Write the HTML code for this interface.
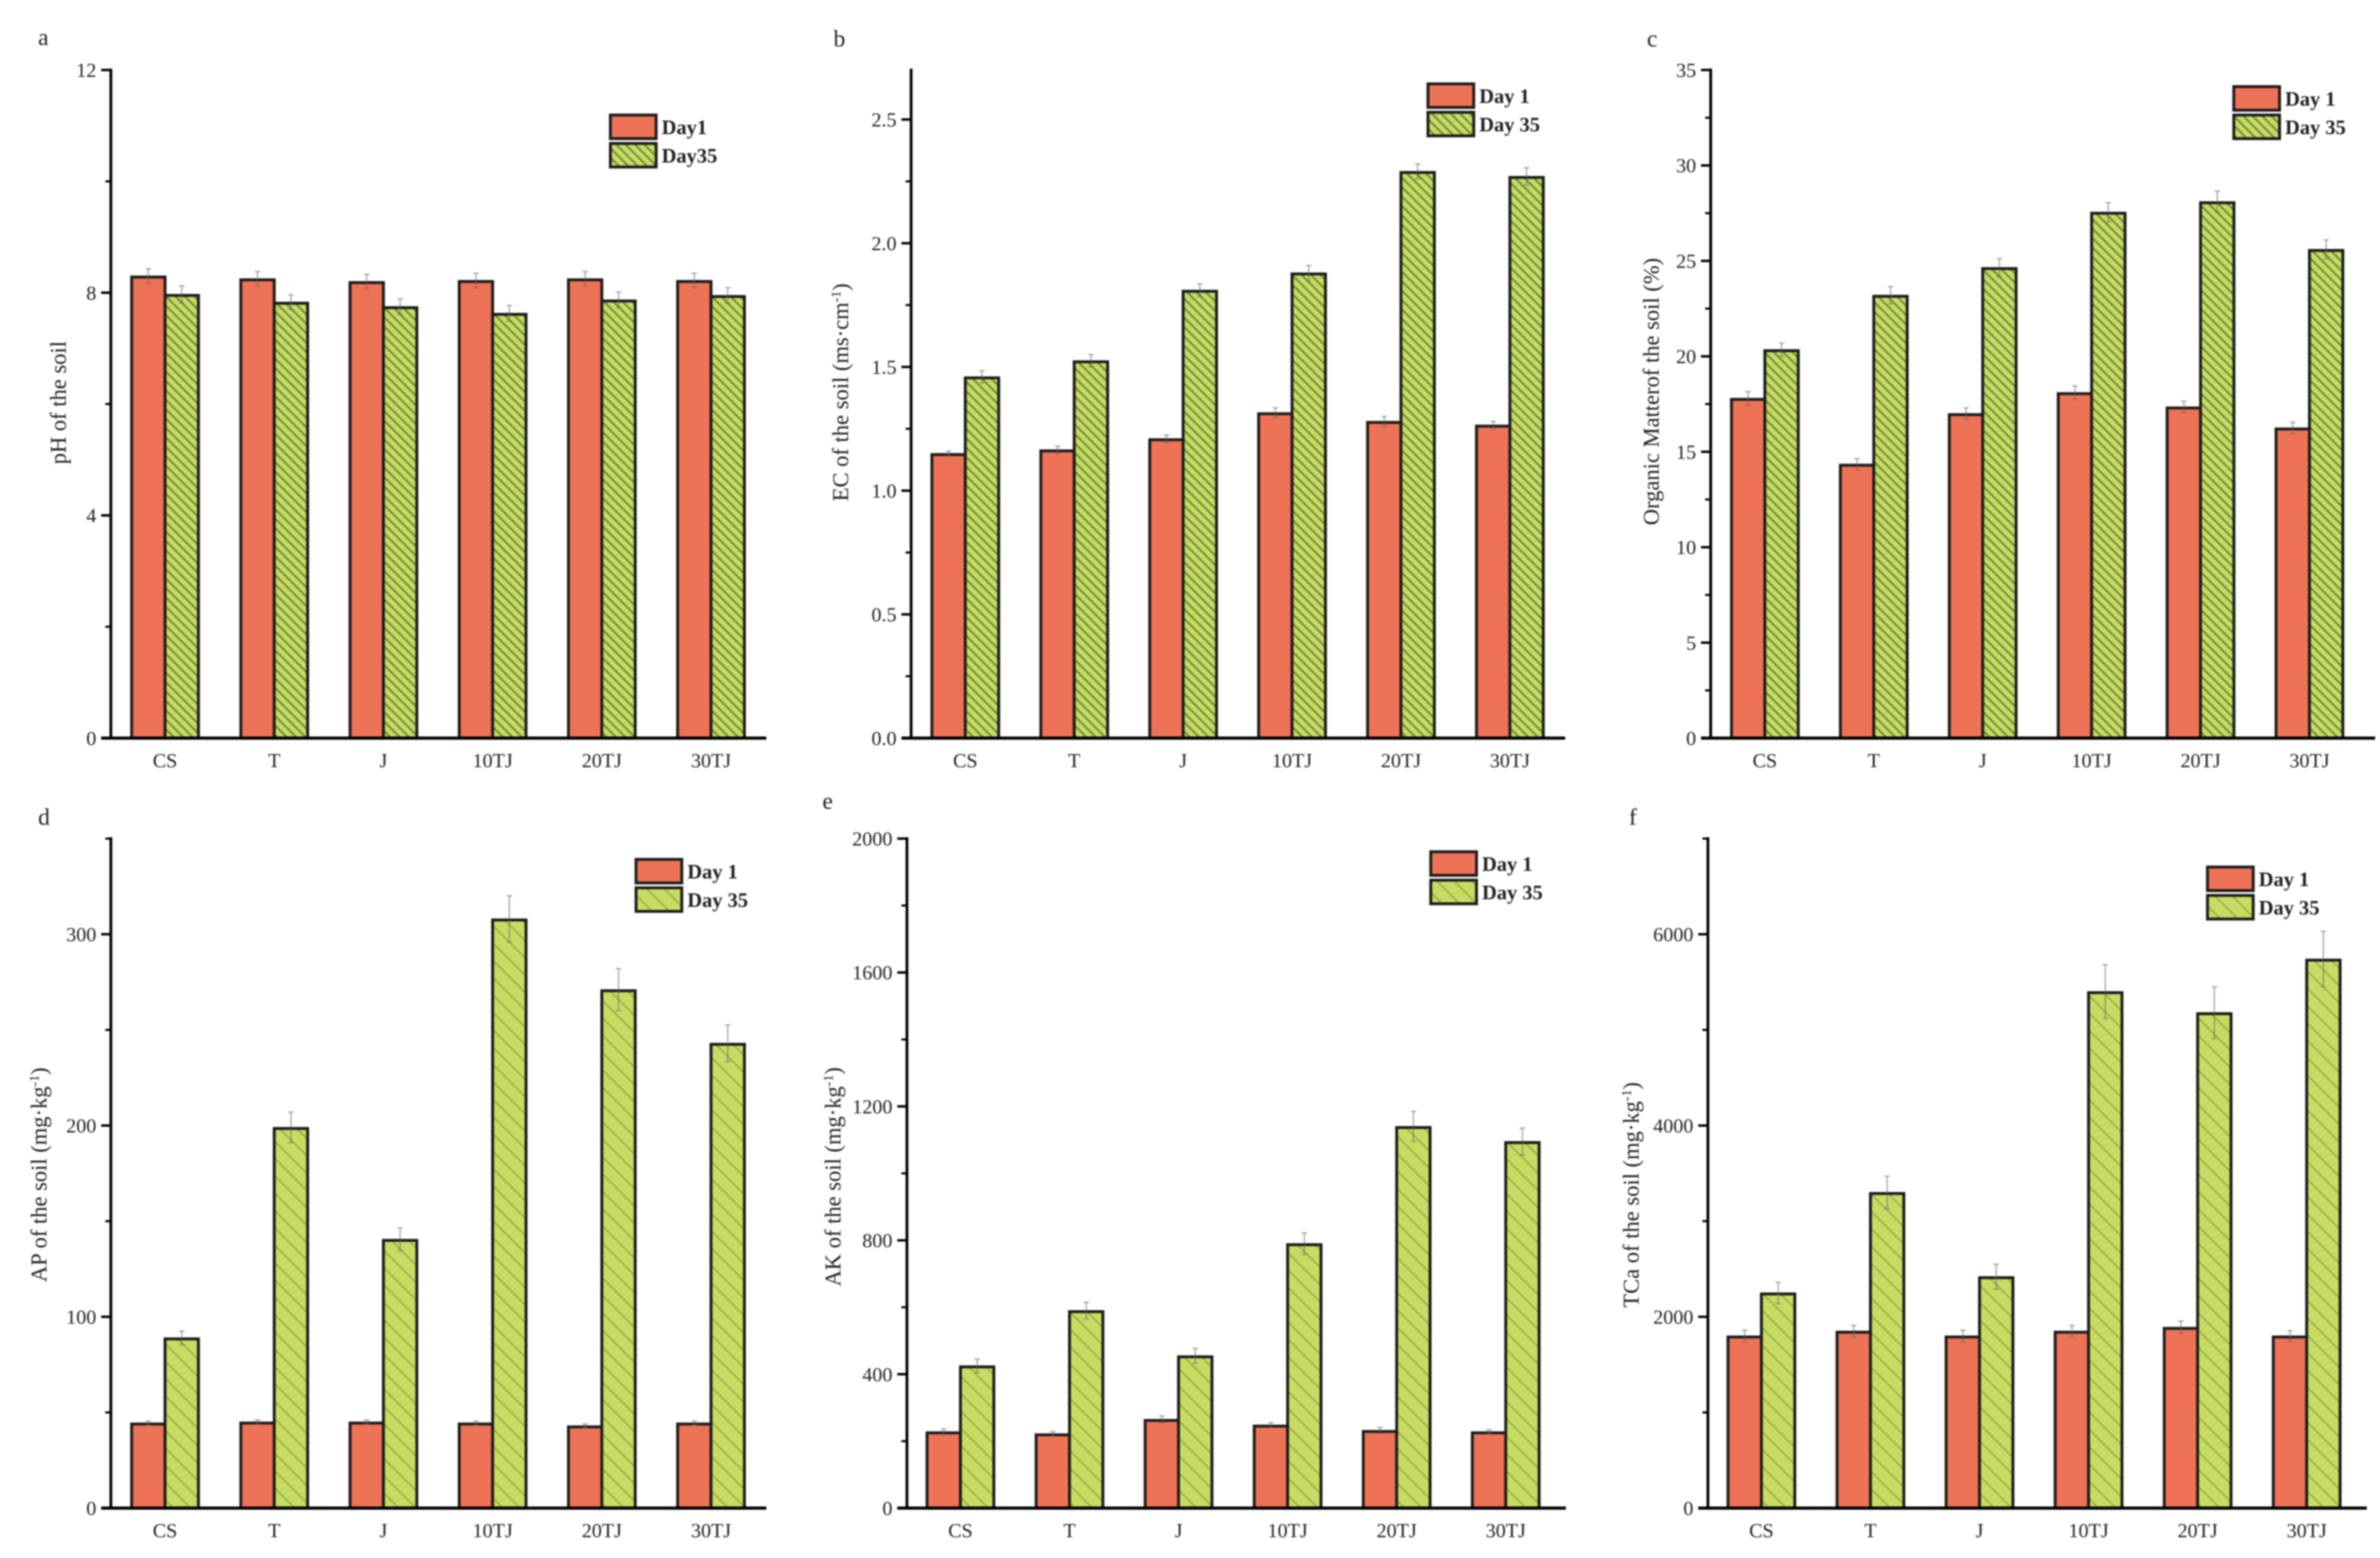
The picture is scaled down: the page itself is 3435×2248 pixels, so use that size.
<!DOCTYPE html>
<html lang="en">
<head>
<meta charset="utf-8">
<title>Soil properties on Day 1 and Day 35</title>
<style>
html,body{margin:0;padding:0;background:#fff;width:3435px;height:2248px;overflow:hidden}
svg{display:block;filter:blur(1.1px)}
text{font-family:"Liberation Serif",serif;fill:#222}
</style>
</head>
<body>
<svg id="figure" xmlns="http://www.w3.org/2000/svg" width="3435" height="2248" viewBox="0 0 3435 2248">
<defs>
<pattern id="hatch-fine" patternUnits="userSpaceOnUse" width="9.6" height="9.6" patternTransform="rotate(-45)">
<rect width="9.6" height="9.6" fill="#c8dc62"></rect>
<rect x="0" y="0" width="2.8" height="9.6" fill="#6f8a3e"></rect>
</pattern>
<pattern id="hatch-coarse" patternUnits="userSpaceOnUse" width="17.7" height="17.7" patternTransform="rotate(-45)">
<rect width="17.7" height="17.7" fill="#c8dc62"></rect>
<rect x="0" y="0" width="2.2" height="17.7" fill="#93ad4e"></rect>
</pattern>
</defs>
</svg>
<script>
const categories = ['CS', 'T', 'J', '10TJ', '20TJ', '30TJ'];

const phDay1 = [8.3, 8.25, 8.2, 8.22, 8.25, 8.22];
const phDay35 = [7.97, 7.83, 7.75, 7.63, 7.87, 7.95];
const phErr1 = [0.13, 0.13, 0.13, 0.13, 0.13, 0.13];
const phErr35 = [0.15, 0.13, 0.14, 0.14, 0.14, 0.14];
const phTicks = [0, 4, 8, 12];
const phMinor = [2, 6, 10];

const ecDay1 = [1.15, 1.165, 1.21, 1.315, 1.28, 1.265];
const ecDay35 = [1.46, 1.525, 1.81, 1.88, 2.29, 2.27];
const ecErr1 = [0.01, 0.015, 0.015, 0.02, 0.02, 0.015];
const ecErr35 = [0.025, 0.025, 0.025, 0.03, 0.03, 0.035];
const ecTicks = [0, 0.5, 1, 1.5, 2, 2.5];
const ecTickLabels = ['0.0', '0.5', '1.0', '1.5', '2.0', '2.5'];
const ecMinor = [0.25, 0.75, 1.25, 1.75, 2.25];

const omDay1 = [17.8, 14.35, 17, 18.1, 17.35, 16.25];
const omDay35 = [20.35, 23.2, 24.65, 27.55, 28.1, 25.6];
const omErr1 = [0.35, 0.28, 0.3, 0.35, 0.3, 0.3];
const omErr35 = [0.35, 0.45, 0.48, 0.5, 0.55, 0.5];
const omTicks = [0, 5, 10, 15, 20, 25, 30, 35];
const omMinor = [2.5, 7.5, 12.5, 17.5, 22.5, 27.5, 32.5];

const apDay1 = [44.5, 45, 45, 44.5, 43, 44.5];
const apDay35 = [89, 199, 140.5, 308, 271, 243];
const apErr1 = [1, 1, 1, 1, 1, 1];
const apErr35 = [3.5, 8, 6, 12, 11, 9.5];
const apTicks = [0, 100, 200, 300];
const apMinor = [50, 150, 250, 350];

const akDay1 = [228, 222, 265, 248, 232, 228];
const akDay35 = [425, 590, 455, 790, 1140, 1095];
const akErr1 = [8, 7, 10, 7, 9, 6];
const akErr35 = [20, 25, 22, 32, 45, 40];
const akTicks = [0, 400, 800, 1200, 1600, 2000];
const akMinor = [200, 600, 1000, 1400, 1800];

const caDay1 = [1800, 1850, 1800, 1850, 1890, 1800];
const caDay35 = [2250, 3300, 2420, 5400, 5180, 5740];
const caErr1 = [60, 60, 60, 60, 65, 55];
const caErr35 = [110, 170, 130, 280, 270, 290];
const caTicks = [0, 2000, 4000, 6000];
const caMinor = [1000, 3000, 5000, 7000];

const SVG_NS = 'http://www.w3.org/2000/svg';
const figure = document.getElementById('figure');

function make(tag, attrs, parent, text) {
  const el = document.createElementNS(SVG_NS, tag);
  for (const key in attrs) {
    el.setAttribute(key, attrs[key]);
  }
  if (text !== undefined) {
    el.textContent = text;
  }
  parent.appendChild(el);
  return el;
}

function drawPanel(cfg) {
  const panel = make('g', {}, figure);
  
  

  const yScale = function (v) {
    return cfg.y0 - (v / cfg.yMax) * (cfg.y0 - cfg.yTop);
  };
  const bandLeft = function (i) {
    return cfg.barStart + i * cfg.pitch;
  };

  const letter = make('text', { x: cfg.letterX, y: cfg.letterY, 'font-size': 34 }, panel, cfg.letter);
  
  

  cfg.day1.forEach(function (v, i) {
    const x = bandLeft(i);
    const top = yScale(v) + 1.5;
    const bar = make('rect', { x: x, y: top, width: cfg.barW, height: cfg.y0 - top, fill: '#ee7256', stroke: '#1c1c1c', 'stroke-width': 4.2 }, panel);
    
    
  });

  cfg.day35.forEach(function (v, i) {
    const x = bandLeft(i) + cfg.barW;
    const top = yScale(v) + 1.5;
    const bar = make('rect', { x: x, y: top, width: cfg.barW, height: cfg.y0 - top, fill: 'url(#' + cfg.hatch + ')', stroke: '#1c1c1c', 'stroke-width': 4.2 }, panel);
    
    
  });

  [[cfg.day1, cfg.err1, 0.5, 'day1'], [cfg.day35, cfg.err35, 1.5, 'day35']].forEach(function (series) {
    series[0].forEach(function (v, i) {
      const cx = bandLeft(i) + cfg.barW * series[2];
      const hi = yScale(v + series[1][i]);
      const lo = yScale(v - series[1][i]);
      const err = make('path', { d: 'M' + cx + ' ' + lo + 'V' + hi + 'M' + (cx - 4) + ' ' + hi + 'H' + (cx + 4) + 'M' + (cx - 4) + ' ' + lo + 'H' + (cx + 4), fill: 'none', stroke: '#666', 'stroke-width': 1.8, 'stroke-opacity': 0.6 }, panel);
      
      
    });
  });

  const yAxis = make('line', { x1: cfg.axisX, x2: cfg.axisX, y1: cfg.yTop - 2, y2: cfg.y0, stroke: '#000', 'stroke-width': 4 }, panel);
  
  

  const xAxis = make('line', { x1: cfg.axisX - 14, x2: cfg.xEnd, y1: cfg.y0, y2: cfg.y0, stroke: '#000', 'stroke-width': 4.5 }, panel);
  
  

  cfg.ticks.forEach(function (v, i) {
    const y = yScale(v);
    const tick = make('line', { x1: cfg.axisX - 14, x2: cfg.axisX, y1: y, y2: y, stroke: '#000', 'stroke-width': 3.5 }, panel);
    
    
    const label = make('text', { x: cfg.axisX - 21, y: y + 10, 'font-size': 29, 'text-anchor': 'end' }, panel, cfg.tickLabels ? cfg.tickLabels[i] : String(v));
    
    
  });

  cfg.minor.forEach(function (v) {
    const y = yScale(v);
    const tick = make('line', { x1: cfg.axisX - 8, x2: cfg.axisX, y1: y, y2: y, stroke: '#000', 'stroke-width': 3 }, panel);
    
    
  });

  categories.forEach(function (c, i) {
    const label = make('text', { x: bandLeft(i) + cfg.barW, y: cfg.y0 + 42, 'font-size': 29, 'text-anchor': 'middle' }, panel, c);
    
    
  });

  const title = make('text', { transform: 'translate(' + cfg.titleX + ' ' + cfg.titleY + ') rotate(-90)', 'font-size': 32.5, 'text-anchor': 'middle' }, panel, cfg.title);
  
  
  if (cfg.titleSup) {
    const sup = make('tspan', { dy: -11, 'font-size': 20 }, title, '-1');
    
    
    const close = make('tspan', { dy: 11 }, title, ')');
    
    
  }

  const legend = make('g', {}, panel);
  
  

  const swatch1 = make('rect', { x: cfg.legX, y: cfg.legY, width: 66, height: 34, fill: '#ee7256', stroke: '#1c1c1c', 'stroke-width': 4.2 }, legend);
  
  

  const swatch2 = make('rect', { x: cfg.legX, y: cfg.legY + 41, width: 66, height: 34, fill: 'url(#' + cfg.hatch + ')', stroke: '#1c1c1c', 'stroke-width': 4.2 }, legend);
  
  

  const text1 = make('text', { x: cfg.legX + 74, y: cfg.legY + 27.5, 'font-size': 29.5, 'font-weight': 'bold' }, legend, cfg.legend1);
  
  

  const text2 = make('text', { x: cfg.legX + 74, y: cfg.legY + 68.5, 'font-size': 29.5, 'font-weight': 'bold' }, legend, cfg.legend2);
  
  
}

drawPanel({ letter: 'a', letterX: 55, letterY: 65, axisX: 160, xEnd: 1106, y0: 1065, yTop: 101, yMax: 12, barStart: 190, pitch: 157.6, barW: 48.2, hatch: 'hatch-fine',
  day1: phDay1, day35: phDay35, err1: phErr1, err35: phErr35, ticks: phTicks, minor: phMinor,
  title: 'pH of the soil', titleX: 95, titleY: 581, legX: 881, legY: 166, legend1: 'Day1', legend2: 'Day35' });

drawPanel({ letter: 'b', letterX: 1203, letterY: 67, axisX: 1315, xEnd: 2259, y0: 1065, yTop: 101, yMax: 2.7, barStart: 1345, pitch: 157.2, barW: 48.2, hatch: 'hatch-fine',
  day1: ecDay1, day35: ecDay35, err1: ecErr1, err35: ecErr35, ticks: ecTicks, tickLabels: ecTickLabels, minor: ecMinor,
  title: 'EC of the soil (ms·cm', titleSup: true, titleX: 1224, titleY: 566, legX: 2061, legY: 121, legend1: 'Day 1', legend2: 'Day 35' });

drawPanel({ letter: 'c', letterX: 2377, letterY: 67, axisX: 2469, xEnd: 3428, y0: 1065, yTop: 101, yMax: 35, barStart: 2499, pitch: 157.2, barW: 48.2, hatch: 'hatch-fine',
  day1: omDay1, day35: omDay35, err1: omErr1, err35: omErr35, ticks: omTicks, minor: omMinor,
  title: 'Organic Matterof the soil (%)', titleX: 2394, titleY: 565, legX: 3224, legY: 125, legend1: 'Day 1', legend2: 'Day 35' });

drawPanel({ letter: 'd', letterX: 55, letterY: 1190, axisX: 160, xEnd: 1106, y0: 2176, yTop: 1210, yMax: 350, barStart: 190, pitch: 157.6, barW: 48.2, hatch: 'hatch-coarse',
  day1: apDay1, day35: apDay35, err1: apErr1, err35: apErr35, ticks: apTicks, minor: apMinor,
  title: 'AP of the soil (mg·kg', titleSup: true, titleX: 67, titleY: 1695, legX: 918, legY: 1240, legend1: 'Day 1', legend2: 'Day 35' });

drawPanel({ letter: 'e', letterX: 1187, letterY: 1167, axisX: 1309, xEnd: 2260, y0: 2176, yTop: 1210, yMax: 2000, barStart: 1338, pitch: 157.4, barW: 48.2, hatch: 'hatch-coarse',
  day1: akDay1, day35: akDay35, err1: akErr1, err35: akErr35, ticks: akTicks, minor: akMinor,
  title: 'AK of the soil (mg·kg', titleSup: true, titleX: 1213, titleY: 1698, legX: 2065, legY: 1229, legend1: 'Day 1', legend2: 'Day 35' });

drawPanel({ letter: 'f', letterX: 2351, letterY: 1190, axisX: 2465, xEnd: 3416, y0: 2176, yTop: 1210, yMax: 7000, barStart: 2494, pitch: 157.4, barW: 48.2, hatch: 'hatch-coarse',
  day1: caDay1, day35: caDay35, err1: caErr1, err35: caErr35, ticks: caTicks, minor: caMinor,
  title: 'TCa of the soil (mg·kg', titleSup: true, titleX: 2365, titleY: 1724, legX: 3186, legY: 1251, legend1: 'Day 1', legend2: 'Day 35' });
</script>
</body>
</html>
